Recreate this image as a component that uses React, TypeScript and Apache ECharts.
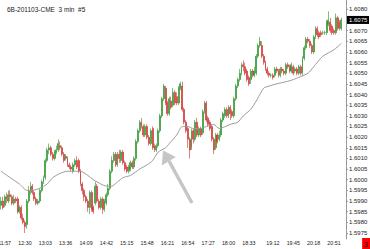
import React, { useEffect, useRef } from "react";
import * as echarts from "echarts";

const TITLE = "6B-201103-CME  3 min  #5";
const FONT = '"Liberation Sans", Arial, sans-serif';
const NARROW = '"Liberation Sans Narrow", "Liberation Sans", Arial, sans-serif';

// 3-minute bars starting 11:51
const START_MIN = 11 * 60 + 51;
const BAR_COUNT = 187;
const categories: string[] = Array.from({ length: BAR_COUNT }, (_, i) => {
  const m = START_MIN + 3 * i;
  return `${Math.floor(m / 60)}:${String(m % 60).padStart(2, "0")}`;
});

const xLabels = [
  "11:57", "12:30", "13:03", "13:36", "14:09", "14:42", "15:15", "15:48", "16:21",
  "16:54", "17:27", "18:00", "18:33", "19:12", "19:45", "20:18", "20:51",
];

const yTicks = [
  1.5975, 1.598, 1.5985, 1.599, 1.5995, 1.6, 1.6005, 1.601, 1.6015, 1.602, 1.6025,
  1.603, 1.6035, 1.604, 1.6045, 1.605, 1.6055, 1.606, 1.6065, 1.607, 1.6075, 1.608,
];

// [open, close, low, high]
const candles: number[][] = [
  [1.5988, 1.5990, 1.5986, 1.5992], [1.5990, 1.5987, 1.5986, 1.5992], [1.5988, 1.5992, 1.5987, 1.5993],
  [1.5992, 1.5991, 1.5989, 1.5994], [1.5990, 1.5993, 1.5989, 1.5995], [1.5993, 1.5992, 1.5990, 1.5995],
  [1.5992, 1.5989, 1.5988, 1.5993], [1.5989, 1.5991, 1.5988, 1.5993], [1.5991, 1.5990, 1.5989, 1.5992],
  [1.5991, 1.5985, 1.5984, 1.5992], [1.5985, 1.5987, 1.5984, 1.5988], [1.5987, 1.5982, 1.5981, 1.5988],
  [1.5982, 1.5980, 1.5979, 1.5984], [1.5980, 1.5978, 1.5975, 1.5981], [1.5979, 1.5990, 1.5977, 1.5991],
  [1.5990, 1.5995, 1.5989, 1.5997], [1.5995, 1.5997, 1.5993, 1.5999], [1.5997, 1.5994, 1.5993, 1.5998],
  [1.5994, 1.5991, 1.5990, 1.5995], [1.5991, 1.5989, 1.5988, 1.5992], [1.5989, 1.5990, 1.5988, 1.5991],
  [1.5990, 1.5995, 1.5989, 1.5996], [1.5995, 1.5999, 1.5994, 1.6000], [1.5999, 1.6001, 1.5998, 1.6002],
  [1.6001, 1.6009, 1.6000, 1.6010], [1.6009, 1.6014, 1.6008, 1.6015], [1.6014, 1.6015, 1.6012, 1.6017],
  [1.6015, 1.6012, 1.6011, 1.6016], [1.6012, 1.6010, 1.6009, 1.6013], [1.6010, 1.6013, 1.6009, 1.6014],
  [1.6013, 1.6014, 1.6012, 1.6016], [1.6014, 1.6017, 1.6013, 1.6019], [1.6016, 1.6015, 1.6014, 1.6018],
  [1.6015, 1.6012, 1.6011, 1.6016], [1.6012, 1.6009, 1.6008, 1.6013], [1.6010, 1.6011, 1.6009, 1.6012],
  [1.6010, 1.6007, 1.6006, 1.6011], [1.6007, 1.6006, 1.6005, 1.6008], [1.6006, 1.6005, 1.6004, 1.6007],
  [1.6004, 1.6007, 1.6003, 1.6008], [1.6007, 1.6009, 1.6006, 1.6010], [1.6009, 1.6006, 1.6005, 1.6011],
  [1.6009, 1.6004, 1.6003, 1.6010], [1.6004, 1.5998, 1.5997, 1.6005], [1.5998, 1.5995, 1.5993, 1.5999],
  [1.5995, 1.5992, 1.5990, 1.5996], [1.5992, 1.5990, 1.5989, 1.5993], [1.5990, 1.5987, 1.5985, 1.5991],
  [1.5987, 1.5994, 1.5984, 1.5995], [1.5994, 1.5986, 1.5985, 1.5995], [1.5987, 1.5985, 1.5984, 1.5988],
  [1.5989, 1.5997, 1.5988, 1.5999], [1.5997, 1.5990, 1.5989, 1.5998], [1.5990, 1.5987, 1.5986, 1.5991],
  [1.5987, 1.5991, 1.5986, 1.5992], [1.5991, 1.5986, 1.5984, 1.5992], [1.5986, 1.5990, 1.5985, 1.5991],
  [1.5989, 1.5993, 1.5988, 1.5994], [1.5993, 1.5996, 1.5992, 1.5998], [1.5996, 1.6004, 1.5995, 1.6005],
  [1.6004, 1.6009, 1.6003, 1.6011], [1.6009, 1.6012, 1.6008, 1.6013], [1.6012, 1.6007, 1.6006, 1.6013],
  [1.6007, 1.6012, 1.6006, 1.6013], [1.6012, 1.6010, 1.6008, 1.6014], [1.6009, 1.6013, 1.6008, 1.6014],
  [1.6013, 1.6008, 1.6007, 1.6014], [1.6008, 1.6005, 1.6004, 1.6009], [1.6006, 1.6004, 1.6003, 1.6007],
  [1.6004, 1.6006, 1.6003, 1.6007], [1.6005, 1.6008, 1.6004, 1.6009], [1.6008, 1.6006, 1.6005, 1.6009],
  [1.6006, 1.6010, 1.6005, 1.6011], [1.6010, 1.6018, 1.6009, 1.6019], [1.6018, 1.6023, 1.6017, 1.6024],
  [1.6023, 1.6027, 1.6022, 1.6028], [1.6027, 1.6025, 1.6024, 1.6029], [1.6025, 1.6021, 1.6020, 1.6026],
  [1.6021, 1.6025, 1.6020, 1.6026], [1.6025, 1.6020, 1.6019, 1.6026], [1.6020, 1.6017, 1.6016, 1.6021],
  [1.6017, 1.6023, 1.6016, 1.6024], [1.6024, 1.6015, 1.6014, 1.6025], [1.6016, 1.6014, 1.6013, 1.6017],
  [1.6014, 1.6016, 1.6013, 1.6017], [1.6016, 1.6023, 1.6015, 1.6024], [1.6023, 1.6030, 1.6022, 1.6031],
  [1.6030, 1.6038, 1.6029, 1.6039], [1.6038, 1.6044, 1.6037, 1.6045], [1.6043, 1.6036, 1.6035, 1.6044],
  [1.6036, 1.6031, 1.6030, 1.6037], [1.6031, 1.6038, 1.6030, 1.6039], [1.6037, 1.6034, 1.6033, 1.6039],
  [1.6035, 1.6041, 1.6034, 1.6043], [1.6041, 1.6036, 1.6035, 1.6042], [1.6039, 1.6036, 1.6035, 1.6041],
  [1.6036, 1.6043, 1.6035, 1.6044], [1.6043, 1.6045, 1.6042, 1.6046], [1.6044, 1.6033, 1.6032, 1.6046],
  [1.6033, 1.6027, 1.6026, 1.6034], [1.6027, 1.6023, 1.6022, 1.6028], [1.6024, 1.6019, 1.6015, 1.6025],
  [1.6019, 1.6014, 1.6010, 1.6020], [1.6015, 1.6023, 1.6014, 1.6024], [1.6023, 1.6019, 1.6017, 1.6024],
  [1.6019, 1.6027, 1.6018, 1.6028], [1.6027, 1.6021, 1.6020, 1.6029], [1.6021, 1.6024, 1.6020, 1.6025],
  [1.6024, 1.6021, 1.6020, 1.6025], [1.6022, 1.6032, 1.6021, 1.6033], [1.6032, 1.6036, 1.6031, 1.6037],
  [1.6036, 1.6028, 1.6027, 1.6037], [1.6029, 1.6026, 1.6025, 1.6030], [1.6027, 1.6024, 1.6023, 1.6028],
  [1.6025, 1.6019, 1.6018, 1.6026], [1.6019, 1.6014, 1.6012, 1.6020], [1.6015, 1.6021, 1.6014, 1.6022],
  [1.6021, 1.6018, 1.6017, 1.6022], [1.6019, 1.6021, 1.6018, 1.6023], [1.6021, 1.6028, 1.6020, 1.6029],
  [1.6028, 1.6031, 1.6027, 1.6032], [1.6030, 1.6033, 1.6029, 1.6034], [1.6033, 1.6030, 1.6029, 1.6034],
  [1.6030, 1.6034, 1.6029, 1.6035], [1.6034, 1.6031, 1.6028, 1.6035], [1.6032, 1.6030, 1.6029, 1.6033],
  [1.6030, 1.6038, 1.6029, 1.6039], [1.6038, 1.6044, 1.6037, 1.6045], [1.6044, 1.6047, 1.6043, 1.6048],
  [1.6047, 1.6050, 1.6046, 1.6052], [1.6050, 1.6054, 1.6049, 1.6055], [1.6054, 1.6053, 1.6051, 1.6056],
  [1.6053, 1.6050, 1.6049, 1.6055], [1.6051, 1.6047, 1.6046, 1.6052], [1.6048, 1.6045, 1.6044, 1.6049],
  [1.6047, 1.6051, 1.6045, 1.6052], [1.6051, 1.6049, 1.6048, 1.6052], [1.6049, 1.6051, 1.6048, 1.6053],
  [1.6050, 1.6058, 1.6049, 1.6059], [1.6058, 1.6063, 1.6057, 1.6064], [1.6063, 1.6065, 1.6062, 1.6067],
  [1.6063, 1.6058, 1.6057, 1.6065], [1.6058, 1.6055, 1.6054, 1.6059], [1.6055, 1.6052, 1.6051, 1.6056],
  [1.6052, 1.6050, 1.6049, 1.6053], [1.6050, 1.6049, 1.6048, 1.6051], [1.6049, 1.6049, 1.6048, 1.6050],
  [1.6049, 1.6048, 1.6047, 1.6050], [1.6049, 1.6052, 1.6048, 1.6053], [1.6052, 1.6051, 1.6050, 1.6053],
  [1.6051, 1.6049, 1.6048, 1.6052], [1.6049, 1.6052, 1.6048, 1.6053], [1.6052, 1.6051, 1.6050, 1.6053],
  [1.6051, 1.6050, 1.6049, 1.6052], [1.6050, 1.6054, 1.6049, 1.6055], [1.6054, 1.6053, 1.6052, 1.6055],
  [1.6053, 1.6051, 1.6050, 1.6054], [1.6051, 1.6054, 1.6050, 1.6055], [1.6053, 1.6050, 1.6049, 1.6054],
  [1.6051, 1.6052, 1.6050, 1.6053], [1.6052, 1.6050, 1.6049, 1.6053], [1.6050, 1.6053, 1.6049, 1.6054],
  [1.6053, 1.6050, 1.6049, 1.6054], [1.6050, 1.6057, 1.6049, 1.6058], [1.6057, 1.6062, 1.6056, 1.6063],
  [1.6062, 1.6066, 1.6061, 1.6067], [1.6066, 1.6065, 1.6064, 1.6067], [1.6065, 1.6063, 1.6062, 1.6066],
  [1.6063, 1.6060, 1.6059, 1.6064], [1.6060, 1.6067, 1.6059, 1.6068], [1.6067, 1.6071, 1.6066, 1.6072],
  [1.6071, 1.6068, 1.6067, 1.6072], [1.6069, 1.6067, 1.6066, 1.6070], [1.6069, 1.6068, 1.6067, 1.6070],
  [1.6069, 1.6069, 1.6068, 1.6070], [1.6069, 1.6069, 1.6068, 1.6070], [1.6069, 1.6074, 1.6068, 1.6075],
  [1.6073, 1.6075, 1.6072, 1.6079], [1.6074, 1.6070, 1.6069, 1.6076], [1.6072, 1.6069, 1.6068, 1.6073],
  [1.6070, 1.6069, 1.6068, 1.6071], [1.6069, 1.6076, 1.6068, 1.6078], [1.6076, 1.6071, 1.6070, 1.6077],
  [1.6074, 1.6071, 1.6070, 1.6075], [1.6071, 1.6075, 1.6070, 1.6076],
];

// moving average, read at sample bars: [bar index, value]
const maPoints: number[][] = [
  [0, 1.6004], [5, 1.6001], [10, 1.5998], [14, 1.5995], [17, 1.5995], [21, 1.5996], [25, 1.5998],
  [28, 1.6001], [32, 1.6003], [36, 1.6004], [39, 1.6004], [43, 1.6004], [47, 1.6002], [50, 1.6000],
  [54, 1.5998], [57, 1.5997], [60, 1.5997], [63, 1.5999], [66, 1.6001], [70, 1.6002], [75, 1.6005],
  [79, 1.6007], [82, 1.6009], [85, 1.6013], [89, 1.6015], [91, 1.6017], [95, 1.6021], [98, 1.6025],
  [101, 1.6025], [104, 1.6024], [108, 1.6024], [111, 1.6025], [115, 1.6026], [118, 1.6024],
  [124, 1.6026], [128, 1.6027], [131, 1.6030], [135, 1.6033], [138, 1.6037], [142, 1.6043],
  [145, 1.6044], [149, 1.6045], [154, 1.6046], [158, 1.6047], [166, 1.6050], [169, 1.6053],
  [174, 1.6058], [180, 1.6061], [184, 1.6064],
];

const LAST_PRICE = 1.6075;
const PANEL_NO = "3";
const Y_MIN = 1.597219;
const Y_MAX = 1.608436;

export default function App() {
  const ref = useRef<HTMLDivElement>(null);
  useEffect(() => {
    if (!ref.current) return;
    const chart = echarts.init(ref.current, undefined, { renderer: "svg" });
    chart.setOption({
      animation: false,
      backgroundColor: "#ffffff",
      title: [
        {
          text: TITLE,
          left: 2,
          top: 1,
          textStyle: { fontSize: 6.5, fontWeight: "normal", color: "#222", fontFamily: FONT },
        },
        {
          text: PANEL_NO,
          right: 0,
          bottom: 0,
          padding: [2, 2, 1, 2],
          backgroundColor: "#ff0000",
          textStyle: { fontSize: 7, fontWeight: "normal", color: "#000", fontFamily: FONT, lineHeight: 8 },
        },
      ],
      grid: { left: 0, right: 24, top: 0, bottom: 10, outerBoundsMode: "none", containLabel: false },
      xAxis: {
        type: "category",
        data: categories,
        boundaryGap: true,
        axisLine: { show: false },
        axisTick: { show: false },
        splitLine: { show: false },
        axisLabel: {
          interval: (_i: number, v: string) => xLabels.includes(v),
          fontSize: 5.3,
          color: "#222",
          margin: 1.5,
          fontFamily: NARROW,
          hideOverlap: false,
        },
      },
      yAxis: {
        type: "value",
        position: "right",
        min: Y_MIN,
        max: Y_MAX,
        scale: true,
        splitLine: { show: false },
        axisLine: { show: true, lineStyle: { color: "#999", width: 1 } },
        axisTick: { show: true, length: 2, customValues: yTicks, lineStyle: { color: "#999" } },
        axisLabel: {
          customValues: yTicks,
          formatter: (v: number) => v.toFixed(4),
          fontSize: 6,
          color: "#222",
          margin: 3,
          fontFamily: FONT,
        },
      },
      series: [
        {
          type: "candlestick",
          data: candles,
          barWidth: 1.4,
          itemStyle: {
            color: "#279427",
            color0: "#cc2e2e",
            borderColor: "#279427",
            borderColor0: "#cc2e2e",
            borderWidth: 0.6,
          },
        },
        {
          type: "line",
          data: maPoints,
          showSymbol: false,
          smooth: 0.2,
          lineStyle: { color: "#9a9a9a", width: 1 },
          z: 3,
        },
      ],
    });
    // current-price tag placed through the y axis scale
    const py = chart.convertToPixel({ yAxisIndex: 0 }, LAST_PRICE) as number;
    chart.setOption({
      graphic: [
        {
          type: "line",
          shape: { x1: 169, y1: 161, x2: 192, y2: 203 },
          style: { stroke: "#c6c6c6", lineWidth: 3.5 },
          z: 10,
        },
        {
          type: "polygon",
          shape: { points: [[163, 150.5], [161.8, 165.5], [175.8, 157]] },
          style: { fill: "#c6c6c6" },
          z: 10,
        },
        {
          type: "rect",
          shape: { x: 347, y: py - 4, width: 22, height: 8 },
          style: { fill: "#000" },
          z: 20,
        },
        {
          type: "text",
          x: 349,
          y: py,
          style: {
            text: LAST_PRICE.toFixed(4),
            fill: "#fff",
            fontSize: 6,
            fontFamily: FONT,
            align: "left",
            verticalAlign: "middle",
          },
          z: 21,
        },
      ],
    });
    return () => chart.dispose();
  }, []);
  return (
    <div
      ref={ref}
      style={{ position: "fixed", left: 0, top: 0, width: 370, height: 249, background: "#fff" }}
    />
  );
}
